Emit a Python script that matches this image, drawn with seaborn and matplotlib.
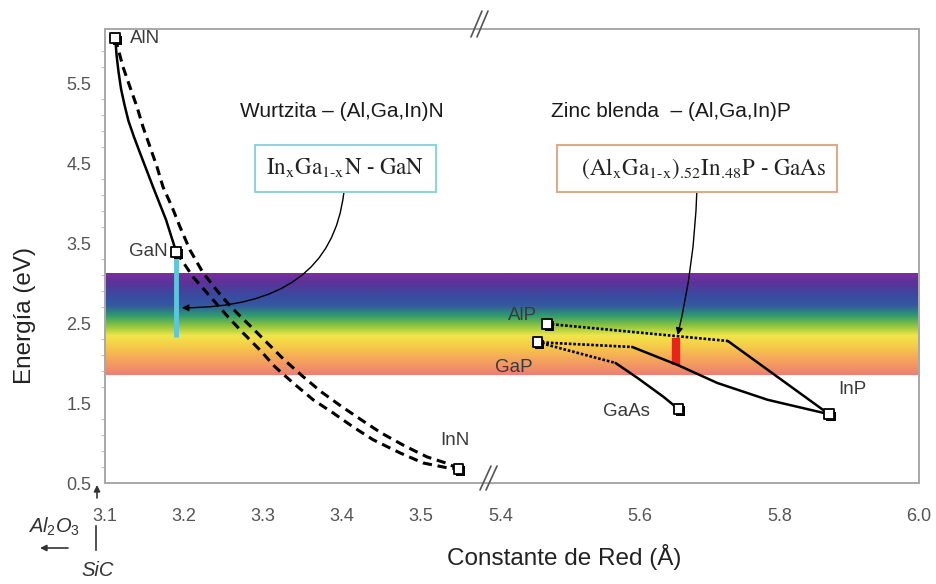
import numpy as np
import pandas as pd
import matplotlib
matplotlib.use("Agg")
import matplotlib.pyplot as plt
import matplotlib.patheffects as pe
from matplotlib.colors import LinearSegmentedColormap
import seaborn as sns

sns.set_theme(style="white")
plt.rcParams["font.family"] = ["Liberation Sans", "DejaVu Sans"]
plt.rcParams["mathtext.fontset"] = "custom"
plt.rcParams["mathtext.rm"] = "Liberation Sans"
plt.rcParams["mathtext.it"] = "Liberation Sans:italic"

# ---------------- data ----------------
compound_names = ["AlN", "GaN", "InN", "AlP", "GaP", "GaAs", "InP"]
compound_a = [3.113, 3.190, 3.547, 5.467, 5.453, 5.655, 5.871]
compound_eg = [6.06, 3.39, 0.675, 2.49, 2.26, 1.425, 1.36]

# wurtzite alloys
algan_a = [3.113, 3.1146, 3.1171, 3.1203, 3.1247, 3.1297, 3.1367, 3.1443, 3.1608,
           3.1772, 3.190]
algan_eg = [6.06, 5.85, 5.64, 5.425, 5.225, 5.025, 4.825, 4.625, 4.20, 3.79, 3.39]

alinn_a = [3.113, 3.1228, 3.1316, 3.1405, 3.1481, 3.1570, 3.1658, 3.1734, 3.1848,
           3.1949, 3.2076, 3.2241, 3.2481, 3.2684, 3.2861, 3.3063, 3.3266, 3.3494,
           3.3734, 3.3987, 3.4241, 3.4494, 3.4797, 3.5076, 3.5342, 3.547]
alinn_eg = [6.06, 5.70, 5.45, 5.20, 4.95, 4.70, 4.45, 4.20, 3.95,
            3.70, 3.41, 3.125, 2.825, 2.61, 2.44, 2.24, 2.04, 1.84,
            1.64, 1.46, 1.29, 1.125, 0.96, 0.825, 0.74, 0.675]

ingan_a = [3.190, 3.2114, 3.2367, 3.2557, 3.2747, 3.2962, 3.3152, 3.3380, 3.3633,
           3.3886, 3.4139, 3.4392, 3.4734, 3.5025, 3.5329, 3.547]
ingan_eg = [3.39, 3.075, 2.79, 2.575, 2.375, 2.16, 1.95, 1.75, 1.54,
            1.375, 1.20, 1.04, 0.875, 0.75, 0.69, 0.675]

# zinc blende alloys: dotted (indirect) and solid (direct) branches
alp_inp_dot_a = [5.467, 5.726]
alp_inp_dot_eg = [2.49, 2.275]
alp_inp_solid_a = [5.726, 5.871]
alp_inp_solid_eg = [2.275, 1.36]

gap_inp_dot_a = [5.453, 5.589]
gap_inp_dot_eg = [2.26, 2.20]
gap_inp_solid_a = [5.589, 5.654, 5.711, 5.783, 5.871]
gap_inp_solid_eg = [2.20, 1.975, 1.75, 1.54, 1.36]

gap_gaas_dot_a = [5.453, 5.565]
gap_gaas_dot_eg = [2.26, 2.00]
gap_gaas_solid_a = [5.565, 5.597, 5.634, 5.655]
gap_gaas_solid_eg = [2.00, 1.81, 1.575, 1.425]

# visible spectrum and emission ranges (eV)
visible_eg = [1.85, 3.125]
ingan_range_a = 3.190
ingan_range_eg = [2.325, 3.325]
algainp_range_a = 5.652
algainp_range_eg = [1.975, 2.31]

x_ticks = [3.1, 3.2, 3.3, 3.4, 3.5, 5.4, 5.6, 5.8, 6.0]
x_ticklabels = ["3.1", "3.2", "3.3", "3.4", "3.5", "5.4", "5.6", "5.8", "6.0"]
y_ticks = [0.5, 1.5, 2.5, 3.5, 4.5, 5.5]
y_ticklabels = ["0.5", "1.5", "2.5", "3.5", "4.5", "5.5"]

# ---------------- broken lattice-constant axis ----------------
BREAK_LO, BREAK_HI = 3.58, 5.38
PX_LEFT, PX_RIGHT, GAP = 790.0, 697.0, 2.0
U0 = (BREAK_LO - 3.1) * PX_LEFT


def _fwd(x):
    x = np.asarray(x, dtype=float)
    left = (x - 3.1) * PX_LEFT
    mid = U0 + (x - BREAK_LO) * GAP / (BREAK_HI - BREAK_LO)
    right = U0 + GAP + (x - BREAK_HI) * PX_RIGHT
    return np.where(x <= BREAK_LO, left, np.where(x < BREAK_HI, mid, right))


def _inv(u):
    u = np.asarray(u, dtype=float)
    left = 3.1 + u / PX_LEFT
    mid = BREAK_LO + (u - U0) * (BREAK_HI - BREAK_LO) / GAP
    right = BREAK_HI + (u - U0 - GAP) / PX_RIGHT
    return np.where(u <= U0, left, np.where(u < U0 + GAP, mid, right))


W, H = 937, 584
fig = plt.figure(figsize=(W / 100, H / 100), dpi=100)
fig.patch.set_facecolor("white")
ax = fig.add_axes([105 / W, 1 - 483 / H, 814 / W, 454 / H])
ax.set_facecolor("white")
ax.set_xscale("function", functions=(_fwd, _inv))

# visible spectrum band
spectrum = LinearSegmentedColormap.from_list(
    "spectrum",
    [(0.00, "#7a2f9c"), (0.10, "#5b3399"), (0.22, "#3a4aa0"), (0.32, "#3458a0"),
     (0.42, "#2e9a70"), (0.52, "#8cc43e"), (0.62, "#f0e64a"), (0.72, "#f6cc48"),
     (0.84, "#f5a95a"), (1.00, "#f07f72")])
grad = np.linspace(0, 1, 256).reshape(-1, 1)
ax.imshow(grad, cmap=spectrum, aspect="auto", origin="upper",
          extent=(0, 1, visible_eg[0], visible_eg[1]),
          transform=ax.get_yaxis_transform(), zorder=0, interpolation="bilinear")

# emission ranges
ax.vlines(ingan_range_a, ingan_range_eg[0], ingan_range_eg[1], color="#5cc6dc",
          lw=3.5, zorder=2)
ax.vlines(algainp_range_a, algainp_range_eg[0], algainp_range_eg[1], color="#e8231e",
          lw=6, zorder=2)

line_kw = dict(sort=False, estimator=None, color="black", ax=ax, legend=False)
dashed = (0, (3.0, 1.9))
dotted = (0, (1.0, 0.7))
sns.lineplot(x=algan_a, y=algan_eg, linewidth=1.8, zorder=3, **line_kw)
sns.lineplot(x=alinn_a, y=alinn_eg, linewidth=2.2, linestyle=dashed, zorder=3, **line_kw)
sns.lineplot(x=ingan_a, y=ingan_eg, linewidth=2.2, linestyle=dashed, zorder=3, **line_kw)

for xa, ya in [(alp_inp_dot_a, alp_inp_dot_eg), (gap_inp_dot_a, gap_inp_dot_eg),
               (gap_gaas_dot_a, gap_gaas_dot_eg)]:
    sns.lineplot(x=xa, y=ya, linewidth=1.9, linestyle=dotted, zorder=3, **line_kw)
for xa, ya in [(alp_inp_solid_a, alp_inp_solid_eg), (gap_inp_solid_a, gap_inp_solid_eg),
               (gap_gaas_solid_a, gap_gaas_solid_eg)]:
    sns.lineplot(x=xa, y=ya, linewidth=1.8, zorder=3, **line_kw)

# binary compounds
sns.scatterplot(x=compound_a, y=compound_eg, marker="s", s=48, color="white",
                edgecolor="black", linewidth=1.3, zorder=5, ax=ax, legend=False)
ax.collections[-1].set_path_effects(
    [pe.SimplePatchShadow(offset=(1.6, -1.6), shadow_rgbFace="black", alpha=1.0),
     pe.Normal()])

label_style = dict(fontsize=13.5, color="#3a3a3a", zorder=6)
ax.text(3.1316, 6.06, "AlN", ha="left", va="center", **label_style)
ax.text(3.1797, 3.39, "GaN", ha="right", va="center", **label_style)
ax.text(3.543, 1.03, "InN", ha="center", va="center", **label_style)
ax.text(5.453, 2.59, "AlP", ha="right", va="center", **label_style)
ax.text(5.419, 1.95, "GaP", ha="center", va="center", **label_style)
ax.text(5.581, 1.40, "GaAs", ha="center", va="center", **label_style)
ax.text(5.905, 1.675, "InP", ha="center", va="center", **label_style)

ax.text(3.40, 5.14, "Wurtzita – (Al,Ga,In)N", ha="center", va="center",
        fontsize=15, color="#1a1a1a")
ax.text(5.644, 5.14, "Zinc blenda  – (Al,Ga,In)P", ha="center", va="center",
        fontsize=15, color="#1a1a1a")

# alloy system call-outs
box_txt = dict(ha="center", va="center", fontsize=16.5, color="#222222",
               math_fontfamily="stix", zorder=6)
ax.annotate(r"$\mathrm{In_xGa_{1\text{-}x}N\ \text{-}\ GaN}$", xy=(3.197, 2.69),
            xytext=(3.4038, 4.431),
            bbox=dict(boxstyle="square,pad=0.5", fc="white", ec="#8fd4dc", lw=1.5),
            arrowprops=dict(arrowstyle="-|>", color="black", lw=1.0, mutation_scale=10,
                            shrinkA=0, shrinkB=0,
                            connectionstyle="angle3,angleA=-90,angleB=0"),
            **box_txt)
ax.annotate(r"$\enspace\;\mathrm{(Al_xGa_{1\text{-}x})_{.\!52}In_{.\!48}P\ \text{-}\ GaAs}"
            r"\;\enspace$",
            xy=(5.654, 2.35), xytext=(5.6819, 4.431),
            bbox=dict(boxstyle="square,pad=0.5", fc="white", ec="#dcaa8c", lw=1.5),
            arrowprops=dict(arrowstyle="-|>", color="black", lw=1.0, mutation_scale=10,
                            shrinkA=0, shrinkB=0,
                            connectionstyle="arc3,rad=-0.06"),
            **box_txt)

# axes styling
ax.set_xlim(3.1, 6.0)
ax.set_ylim(0.5, 6.175)
ax.set_xticks(x_ticks)
ax.set_xticklabels(x_ticklabels)
ax.set_xticks([], minor=True)
ax.set_yticks(y_ticks)
ax.set_yticklabels(y_ticklabels)
ax.set_yticks(np.round(np.arange(0.7, 6.1, 0.2), 2), minor=True)
ax.tick_params(axis="both", which="major", direction="out", length=5, width=1.0,
               color="#b0b0b0", labelsize=13, labelcolor="#555555", pad=5)
ax.tick_params(axis="y", which="minor", direction="out", length=3, width=0.8,
               color="#c0c0c0", left=True)
ax.tick_params(axis="x", which="major", pad=13)
ax.tick_params(axis="y", which="major", length=7, pad=3)
for s in ax.spines.values():
    s.set_color("#a8a8a8")
    s.set_linewidth(1.4)
ax.grid(False)

ax.set_xlabel("Constante de Red (Å)", fontsize=17.5, color="#222222")
ax.set_ylabel("Energía (eV)", fontsize=17.5, color="#222222")
ax.xaxis.set_label_coords((564 - 105) / 814, (483 - 557) / 454)
ax.xaxis.label.set_verticalalignment("center")
ax.yaxis.set_label_coords((25 - 105) / 814, (483 - 316) / 454)
ax.yaxis.label.set_verticalalignment("center")

# axis-break marks
brk = dict(color="#555555", lw=1.2, transform=ax.transAxes, clip_on=False, zorder=7)
for x0 in (0.4607, 0.4681):
    ax.plot([x0, x0 + 0.0135], [-0.0154, 0.0374], **brk)
for x0 in (0.4496, 0.4570):
    ax.plot([x0, x0 + 0.0135], [0.9824, 1.0396], **brk)

# substrate references under the axis origin
fig.text(54 / W, 1 - 527 / H, r"$Al_2O_3$", ha="center", va="center",
         fontsize=14.5, color="#333333")
fig.text(98 / W, 1 - 571 / H, "SiC", ha="center", va="center", fontsize=14.5,
         style="italic", color="#333333")
arr = dict(arrowstyle="-|>", color="#333333", lw=1.2, mutation_scale=9,
           shrinkA=0, shrinkB=0)
ax.annotate("", xy=(40, H - 548), xytext=(68, H - 548), xycoords="figure pixels",
            arrowprops=arr)
ax.annotate("", xy=(97, H - 485), xytext=(97, H - 498), xycoords="figure pixels",
            arrowprops=arr)
ax.annotate("", xy=(96, H - 553), xytext=(96, H - 523), xycoords="figure pixels",
            arrowprops=dict(arrowstyle="-", color="#333333", lw=1.2))

fig.savefig("out.png", dpi=100)
